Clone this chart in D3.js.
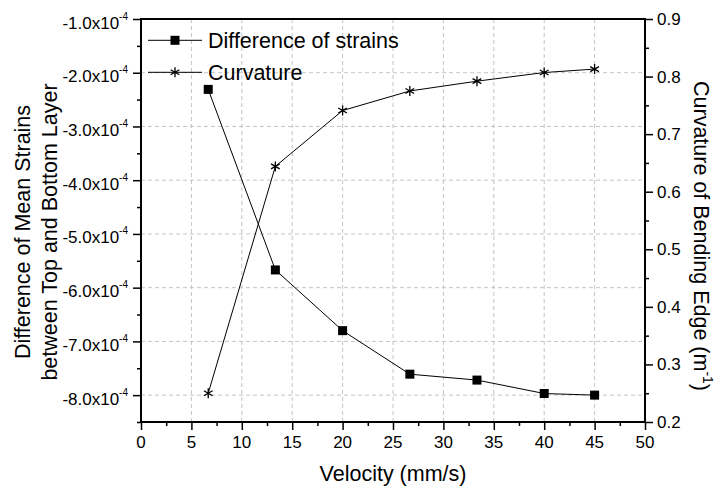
<!DOCTYPE html>
<html>
<head>
<meta charset="utf-8">
<script src="https://cdn.jsdelivr.net/npm/d3@7"></script>
<style>
  body { margin: 0; background: #fff; }
  svg { font-family: "Liberation Sans", Arial, sans-serif; }
</style>
</head>
<body>
<div id="chart"></div>
<script>
// data
var velocity = [6.67, 13.33, 20, 26.67, 33.33, 40, 45];
var strainDiff = [-2.31e-4, -5.67e-4, -6.80e-4, -7.61e-4, -7.72e-4, -7.97e-4, -8.00e-4];
var curvature = [0.25, 0.644, 0.741, 0.775, 0.792, 0.807, 0.813];

var xTicks = [0, 5, 10, 15, 20, 25, 30, 35, 40, 45, 50];
var leftTicks = [-1, -2, -3, -4, -5, -6, -7, -8];   // x10^-4
var rightTicks = [0.2, 0.3, 0.4, 0.5, 0.6, 0.7, 0.8, 0.9];
var seriesNames = ['Difference of strains', 'Curvature'];

var width = 717, height = 486;
var margin = {left: 141, right: 72, top: 19, bottom: 64};
var titleSize = 21.5;

var svg = d3.select('#chart').append('svg')
	.attr('width', width)
	.attr('height', height);

var xScale = d3.scaleLinear().domain([0, 50]).range([margin.left, width - margin.right]),
	yLeft = d3.scaleLinear().domain([-8.5e-4, -1.0e-4]).range([height - margin.bottom, margin.top]),
	yRight = d3.scaleLinear().domain([0.2, 0.9]).range([height - margin.bottom, margin.top]);

var x0 = xScale.range()[0], x1 = xScale.range()[1],
	yB = yLeft.range()[0], yT = yLeft.range()[1];

// grid
var grid = svg.append('g').attr('class', 'grid')
	.attr('stroke', '#c4c4c4').attr('stroke-width', 1).attr('stroke-dasharray', '4,3');
grid.selectAll('.vg').data(xTicks.slice(1, -1)).enter().append('line')
	.attr('x1', function(d){ return xScale(d); })
	.attr('x2', function(d){ return xScale(d); })
	.attr('y1', yT).attr('y2', yB);
grid.selectAll('.hg').data(leftTicks.slice(1)).enter().append('line')
	.attr('y1', function(d){ return yLeft(d * 1e-4); })
	.attr('y2', function(d){ return yLeft(d * 1e-4); })
	.attr('x1', x0).attr('x2', x1);

// axes
function minorOf(ticks, step) {
	var out = [];
	for (var i = 0; i < ticks.length; i++) out.push(+(ticks[i] + step).toFixed(6));
	return out;
}

var xMinor = minorOf(xTicks.slice(0, -1), 2.5);
var leftMinor = minorOf(leftTicks, -0.5).map(function(d){ return d * 1e-4; });
var rightMinor = minorOf(rightTicks.slice(0, -1), 0.05);

function styleAxis(g) {
	g.select('.domain').remove();
	g.selectAll('.tick line').attr('stroke', '#000').attr('stroke-width', 1.5);
	g.selectAll('.tick text').remove();
}

svg.append('g').attr('transform', 'translate(0,' + yB + ')')
	.call(d3.axisBottom(xScale).tickValues(xTicks).tickSize(8).tickFormat('')).call(styleAxis);
svg.append('g').attr('transform', 'translate(0,' + yB + ')')
	.call(d3.axisBottom(xScale).tickValues(xMinor).tickSize(4).tickFormat('')).call(styleAxis);
svg.append('g').attr('transform', 'translate(' + x0 + ',0)')
	.call(d3.axisLeft(yLeft).tickValues(leftTicks.map(function(d){ return d * 1e-4; })).tickSize(8).tickFormat('')).call(styleAxis);
svg.append('g').attr('transform', 'translate(' + x0 + ',0)')
	.call(d3.axisLeft(yLeft).tickValues(leftMinor).tickSize(4).tickFormat('')).call(styleAxis);
svg.append('g').attr('transform', 'translate(' + x1 + ',0)')
	.call(d3.axisRight(yRight).tickValues(rightTicks).tickSize(8).tickFormat('')).call(styleAxis);
svg.append('g').attr('transform', 'translate(' + x1 + ',0)')
	.call(d3.axisRight(yRight).tickValues(rightMinor).tickSize(4).tickFormat('')).call(styleAxis);

// frame
svg.append('rect')
	.attr('x', x0).attr('y', yT)
	.attr('width', x1 - x0).attr('height', yB - yT)
	.attr('fill', 'none').attr('stroke', '#000').attr('stroke-width', 2);

// tick labels
svg.selectAll('.xl').data(xTicks).enter().append('text')
	.attr('x', function(d){ return xScale(d); })
	.attr('y', yB + 26)
	.attr('text-anchor', 'middle')
	.attr('font-size', 17)
	.text(function(d){ return d; });

var ll = svg.selectAll('.ll').data(leftTicks).enter().append('text')
	.attr('x', x0 - 13)
	.attr('y', function(d){ return yLeft(d * 1e-4) + 9.5; })
	.attr('text-anchor', 'end')
	.attr('font-size', 17);
ll.append('tspan').text(function(d){ return d.toFixed(1) + 'x10'; });
ll.append('tspan').attr('dy', -9).attr('font-size', 10).text('-4');

svg.selectAll('.rl').data(rightTicks).enter().append('text')
	.attr('x', x1 + 12)
	.attr('y', function(d){ return yRight(d) + 6; })
	.attr('font-size', 17)
	.text(function(d){ return d.toFixed(1); });

// axis titles
svg.append('text')
	.attr('x', (x0 + x1) / 2).attr('y', 481)
	.attr('text-anchor', 'middle').attr('font-size', titleSize)
	.text('Velocity (mm/s)');

svg.append('text')
	.attr('transform', 'translate(30,232) rotate(-90)')
	.attr('text-anchor', 'middle').attr('font-size', titleSize)
	.text('Difference of Mean Strains');
svg.append('text')
	.attr('transform', 'translate(57,232) rotate(-90)')
	.attr('text-anchor', 'middle').attr('font-size', titleSize)
	.text('between Top and Bottom Layer');

var rt = svg.append('text')
	.attr('transform', 'translate(694,236) rotate(90)')
	.attr('text-anchor', 'middle').attr('font-size', titleSize);
rt.append('tspan').text('Curvature of Bending Edge (m');
rt.append('tspan').attr('dy', -9).attr('font-size', 14).text('-1');
rt.append('tspan').attr('dy', 9).text(')');

// series
var strainPts = velocity.map(function(v, i){ return [xScale(v), yLeft(strainDiff[i])]; });
var curvPts = velocity.map(function(v, i){ return [xScale(v), yRight(curvature[i])]; });

var line = d3.line();
svg.append('path').attr('d', line(strainPts))
	.attr('fill', 'none').attr('stroke', '#000').attr('stroke-width', 1);
svg.append('path').attr('d', line(curvPts))
	.attr('fill', 'none').attr('stroke', '#000').attr('stroke-width', 1);

function square(g, x, y) {
	g.append('rect').attr('x', x - 4.5).attr('y', y - 4.5)
		.attr('width', 9).attr('height', 9).attr('fill', '#000');
}
function star(g, x, y) {
	var r = 5, a = r * 0.866, b = r * 0.5;
	g.append('path')
		.attr('d', 'M' + x + ',' + (y - r) + 'V' + (y + r) +
			'M' + (x - a) + ',' + (y - b) + 'L' + (x + a) + ',' + (y + b) +
			'M' + (x - a) + ',' + (y + b) + 'L' + (x + a) + ',' + (y - b))
		.attr('stroke', '#000').attr('stroke-width', 1.3).attr('fill', 'none');
}

var marks = svg.append('g');
strainPts.forEach(function(p){ square(marks, p[0], p[1]); });
curvPts.forEach(function(p){ star(marks, p[0], p[1]); });

// legend
var legend = svg.append('g');
[40.3, 72.3].forEach(function(ly, i) {
	legend.append('line').attr('x1', 148).attr('x2', 202).attr('y1', ly).attr('y2', ly)
		.attr('stroke', '#000').attr('stroke-width', 1);
	if (i === 0) square(legend, 175, ly); else star(legend, 175, ly);
	legend.append('text').attr('x', 208).attr('y', ly + 7.2)
		.attr('font-size', titleSize).text(seriesNames[i]);
});
</script>
</body>
</html>
